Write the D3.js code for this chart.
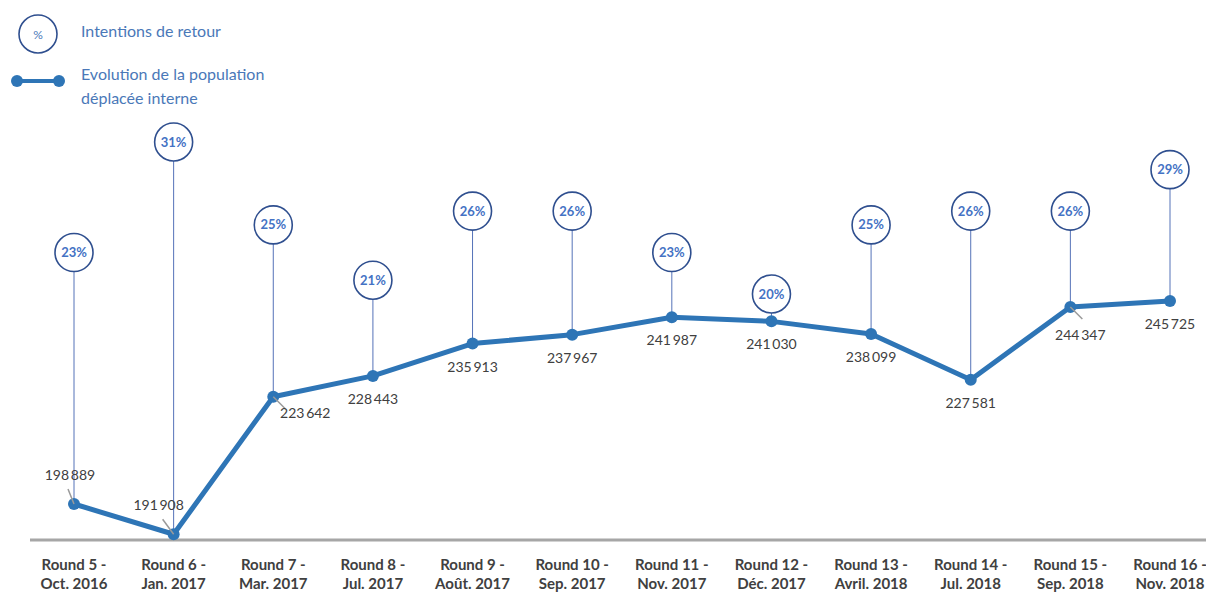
<!DOCTYPE html>
<html>
<head>
<meta charset="utf-8">
<script src="https://cdn.jsdelivr.net/npm/d3@7"></script>
<style>
  body { margin: 0; background: #fff; }
  svg { display: block; font-family: Lato, "Open Sans", sans-serif; }
</style>
</head>
<body>
<svg id="canvas" width="1206" height="592"></svg>
<script>
// data
const rounds = ['Round 5 -', 'Round 6 -', 'Round 7 -', 'Round 8 -', 'Round 9 -', 'Round 10 -',
    'Round 11 -', 'Round 12 -', 'Round 13 -', 'Round 14 -', 'Round 15 -', 'Round 16 -'];
const periods = ['Oct. 2016', 'Jan. 2017', 'Mar. 2017', 'Jul. 2017', 'Août. 2017', 'Sep. 2017',
    'Nov. 2017', 'Déc. 2017', 'Avril. 2018', 'Jul. 2018', 'Sep. 2018', 'Nov. 2018'];
const idpPopulation = [198889, 191908, 223642, 228443, 235913, 237967,
    241987, 241030, 238099, 227581, 244347, 245725];
const returnIntentions = [23, 31, 25, 21, 26, 26, 23, 20, 25, 26, 26, 29];

function chart() {
    const svg = d3.select('#canvas');
    const width = 1206;
    const baseY = 540;

    const lineColor = '#2e75b6';
    const ringColor = '#2f4f8f';
    const textBlue = '#4a78b8';
    const grey = '#404040';

    // x: one slot per round
    const x = d3.scalePoint()
        .domain(d3.range(rounds.length))
        .range([74, 1170]);

    const y = d3.scaleLinear()
        .domain([190583, 315179])
        .range([baseY, 0]);

    // percent rings sit on their own scale, higher intention -> higher ring
    const yPct = d3.scaleLinear()
        .domain([20, 31])
        .range([294, 142]);

    const fmt = d3.formatLocale({ decimal: ',', thousands: '\u2009', grouping: [3], currency: ['', ''] }).format(',d');

    // baseline
    svg.append('line')
        .attr('x1', 30).attr('x2', width)
        .attr('y1', baseY).attr('y2', baseY)
        .style('stroke', '#a6a6a6')
        .style('stroke-width', 3);

    // x labels
    const xAxis = svg.append('g').attr('class', 'x-labels');
    rounds.forEach((r, i) => {
        const t = xAxis.append('text')
            .attr('x', x(i))
            .attr('text-anchor', 'middle')
            .style('font-weight', 'bold')
            .style('font-size', '15px')
            .style('fill', grey);
        t.append('tspan').attr('x', x(i)).attr('y', 570).text(r);
        t.append('tspan').attr('x', x(i)).attr('y', 589).text(periods[i]);
    });

    const rr = 19;

    // stems from ring down to the point
    svg.append('g').selectAll('line')
        .data(returnIntentions)
        .join('line')
        .attr('x1', (d, i) => x(i)).attr('x2', (d, i) => x(i))
        .attr('y1', d => yPct(d) + rr)
        .attr('y2', (d, i) => y(idpPopulation[i]))
        .style('stroke', '#5572b8')
        .style('stroke-width', 1);

    // population line
    const line = d3.line()
        .x((d, i) => x(i))
        .y(d => y(d));

    svg.append('path')
        .datum(idpPopulation)
        .attr('d', line)
        .style('fill', 'none')
        .style('stroke', lineColor)
        .style('stroke-width', 5)
        .style('stroke-linejoin', 'round');

    svg.append('g').selectAll('circle')
        .data(idpPopulation)
        .join('circle')
        .attr('cx', (d, i) => x(i))
        .attr('cy', d => y(d))
        .attr('r', 6)
        .style('fill', lineColor);

    // value labels; the two lowest go above-left with a leader line
    const labels = svg.append('g');
    idpPopulation.forEach((v, i) => {
        const px = x(i), py = y(v);
        let lx = px, ly = py + 28;
        let leader = null;
        if (baseY - py < 50) {
            lx = px - (i === 1 ? 15 : 4); ly = py - 24;
            leader = [lx + (i === 1 ? 4 : -2), ly + 9];
        } else if (i === 2) {
            lx = px + 32; ly = py + 21;
            leader = [px + 12, py + 12];
        } else if (i === 10) {
            lx = px + 10; ly = py + 33;
            leader = [px + 12, py + 12];
        }
        if (leader) {
            labels.append('line')
                .attr('x1', px).attr('y1', py)
                .attr('x2', leader[0]).attr('y2', leader[1])
                .style('stroke', '#9a9a9a')
                .style('stroke-width', 1.5);
        }
        labels.append('text')
            .attr('x', lx).attr('y', ly)
            .attr('text-anchor', 'middle')
            .style('font-size', '14px')
            .style('fill', grey)
            .text(fmt(v));
    });

    // percent rings
    const rings = svg.append('g').selectAll('g')
        .data(returnIntentions)
        .join('g')
        .attr('transform', (d, i) => `translate(${x(i)},${yPct(d)})`);

    rings.append('circle')
        .attr('r', rr)
        .style('fill', '#fff')
        .style('stroke', ringColor)
        .style('stroke-width', 1.6);

    rings.append('text')
        .attr('dy', '0.35em')
        .attr('text-anchor', 'middle')
        .style('font-weight', 'bold')
        .style('font-size', '13px')
        .style('fill', '#4472c4')
        .text(d => d + '%');

    // legend
    const legend = svg.append('g');
    legend.append('circle')
        .attr('cx', 38).attr('cy', 34).attr('r', 19)
        .style('fill', '#fff')
        .style('stroke', ringColor)
        .style('stroke-width', 1.6);
    legend.append('text')
        .attr('x', 38).attr('y', 35).attr('dy', '0.35em')
        .attr('text-anchor', 'middle')
        .style('font-size', '12px')
        .style('fill', textBlue)
        .text('%');
    legend.append('text')
        .attr('x', 81).attr('y', 37)
        .style('font-size', '16px')
        .style('fill', textBlue)
        .text('Intentions de retour');

    legend.append('line')
        .attr('x1', 17).attr('x2', 59)
        .attr('y1', 81).attr('y2', 81)
        .style('stroke', lineColor)
        .style('stroke-width', 4);
    legend.selectAll('circle.end')
        .data([17, 59])
        .join('circle')
        .attr('class', 'end')
        .attr('cx', d => d).attr('cy', 81).attr('r', 6)
        .style('fill', lineColor);
    const lt = legend.append('text')
        .style('font-size', '16px')
        .style('fill', textBlue);
    lt.append('tspan').attr('x', 81).attr('y', 80).text('Evolution de la population');
    lt.append('tspan').attr('x', 81).attr('y', 104).text('déplacée interne');
}

chart();
</script>
</body>
</html>
